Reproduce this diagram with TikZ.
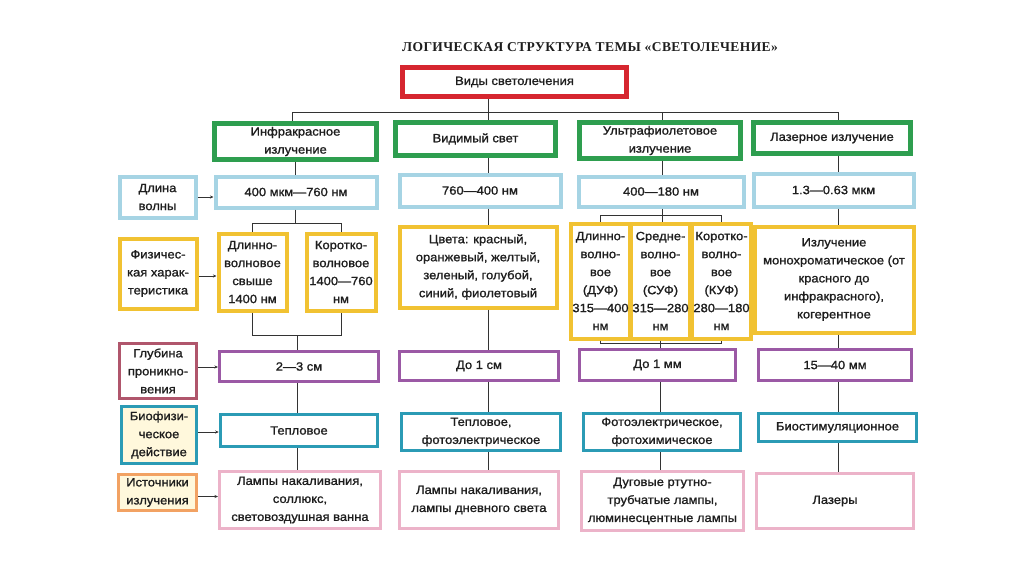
\documentclass[tikz,border=0pt]{standalone}
\usepackage{fontspec}
\setmainfont[FakeStretch=1.08,FakeBold=1.2]{Liberation Sans}
\newfontfamily\titlefont[LetterSpace=3]{Liberation Serif}
\usetikzlibrary{arrows.meta}
\definecolor{cred}{HTML}{D6262F}
\definecolor{cgreen}{HTML}{2E9E4F}
\definecolor{cblue}{HTML}{A6D4E4}
\definecolor{cyellow}{HTML}{F1C232}
\definecolor{cpurple}{HTML}{9B59A5}
\definecolor{cteal}{HTML}{2B9BB5}
\definecolor{cpink}{HTML}{ECB3C9}
\definecolor{corange}{HTML}{F2A263}
\definecolor{cmaroon}{HTML}{B0566C}
\definecolor{ccream}{HTML}{FFF8DC}
\definecolor{ctext}{HTML}{1E1E1E}
\newcommand{\mkbox}[7]{\node[#2, minimum width={#5-#3-3}, minimum height={#6-#4-3}] (#1) at ({(#3+#5)/2},{(#4+#6)/2}) {#7};}
\tikzset{
  box/.style={draw, fill=white, align=center, inner sep=1pt, text=ctext,
    font=\fontsize{12}{18}\selectfont},
  redbox/.style={box, draw=cred, line width=4.5pt},
  greenbox/.style={box, draw=cgreen, line width=4.5pt},
  bluebox/.style={box, draw=cblue, line width=4pt},
  yellowbox/.style={box, draw=cyellow, line width=4pt},
  purplebox/.style={box, draw=cpurple, line width=3pt},
  tealbox/.style={box, draw=cteal, line width=3.5pt},
  pinkbox/.style={box, draw=cpink, line width=3pt},
  conn/.style={draw=black!80, line width=0.8pt},
  arr/.style={conn, -{Stealth[length=3.5pt,width=3pt]}}
}
\begin{document}
\begin{tikzpicture}[x=1pt,y=-1pt]
\useasboundingbox (0,0) rectangle (1024,576);
\fill[white] (0,0) rectangle (1024,576);

\node[font=\titlefont\bfseries\fontsize{13.5}{15}\selectfont, text=ctext] (title) at (590,47) {ЛОГИЧЕСКАЯ СТРУКТУРА ТЕМЫ «СВЕТОЛЕЧЕНИЕ»};

\mkbox{root}{redbox}{401}{66}{628}{98}{Виды светолечения}

% row 1
\mkbox{ir}{greenbox}{213}{122}{378}{161}{Инфракрасное\\излучение}
\mkbox{vis}{greenbox}{394}{121}{557}{157}{Видимый свет}
\mkbox{uv}{greenbox}{578}{121}{742}{160}{Ультрафиолетовое\\излучение}
\mkbox{las}{greenbox}{752}{121}{912}{155}{Лазерное излучение}

% row 2
\mkbox{lblW}{bluebox}{118}{175}{197}{219}{Длина\\волны}
\mkbox{irW}{bluebox}{214}{175}{378}{209}{400 мкм—760 нм}
\mkbox{visW}{bluebox}{398}{173}{562}{208}{760—400 нм}
\mkbox{uvW}{bluebox}{577}{175}{745}{208}{400—180 нм}
\mkbox{lasW}{bluebox}{752}{172}{915}{208}{1.3—0.63 мкм}

% row 3
\mkbox{lblP}{yellowbox}{118}{237}{198}{310}{Физичес-\\кая харак-\\теристика}
\mkbox{irL}{yellowbox}{217}{232}{288}{312}{Длинно-\\волновое\\свыше\\1400 нм}
\mkbox{irS}{yellowbox}{305}{232}{377}{312}{Коротко-\\волновое\\1400—760\\нм}
\mkbox{visP}{yellowbox}{398}{225}{558}{309}{Цвета: красный,\\оранжевый, желтый,\\зеленый, голубой,\\синий, фиолетовый}
\mkbox{uvA}{yellowbox}{572}{222}{629}{340}{Длинно-\\волно-\\вое\\(ДУФ)\\315—400\\нм}
\mkbox{uvB}{yellowbox}{632}{222}{689}{340}{Средне-\\волно-\\вое\\(СУФ)\\315—280\\нм}
\mkbox{uvC}{yellowbox}{692}{222}{751}{340}{Коротко-\\волно-\\вое\\(КУФ)\\280—180\\нм}
\mkbox{lasP}{yellowbox}{753}{225}{915}{334}{Излучение\\монохроматическое (от\\красного до\\инфракрасного),\\когерентное}

% row 4
\mkbox{lblD}{box, draw=cmaroon, line width=3.5pt}{118}{342}{198}{400}{Глубина\\проникно-\\вения}
\mkbox{irD}{purplebox}{218}{350}{380}{383}{2—3 см}
\mkbox{visD}{purplebox}{398}{350}{560}{382}{До 1 см}
\mkbox{uvD}{purplebox}{578}{348}{737}{382}{До 1 мм}
\mkbox{lasD}{purplebox}{757}{348}{913}{382}{15—40 мм}

% row 5
\mkbox{lblB}{tealbox, fill=ccream}{120}{405}{198}{465}{Биофизи-\\ческое\\действие}
\mkbox{irB}{tealbox}{219}{413}{379}{448}{Тепловое}
\mkbox{visB}{tealbox}{400}{412}{562}{452}{Тепловое,\\фотоэлектрическое}
\mkbox{uvBio}{tealbox}{582}{412}{742}{452}{Фотоэлектрическое,\\фотохимическое}
\mkbox{lasB}{tealbox}{757}{412}{918}{443}{Биостимуляционное}

% row 6
\mkbox{lblS}{box, draw=corange, fill=ccream, line width=3.5pt}{117}{473}{198}{512}{Источники\\излучения}
\mkbox{irSrc}{pinkbox}{218}{470}{382}{530}{Лампы накаливания,\\соллюкс,\\световоздушная ванна}
\mkbox{visSrc}{pinkbox}{398}{470}{560}{530}{Лампы накаливания,\\лампы дневного света}
\mkbox{uvSrc}{pinkbox}{580}{470}{745}{532}{Дуговые ртутно-\\трубчатые лампы,\\люминесцентные лампы}
\mkbox{lasSrc}{pinkbox}{755}{472}{915}{530}{Лазеры}

% top bus
\coordinate (bL) at (292,112);
\coordinate (b0) at (488,112);
\coordinate (bU) at (662,112);
\coordinate (bR) at (838,112);
\draw[conn] (bL) -- (bR);
\draw[conn] (b0 |- root.south) -- (b0);
\draw[conn] (bL) -- (bL |- ir.north);
\draw[conn] (b0) -- (b0 |- vis.north);
\draw[conn] (bU) -- (bU |- uv.north);
\draw[conn] (bR) -- (bR |- las.north);

% infrared column
\coordinate (cI) at (295,223);
\coordinate (cIL) at (irL.center |- cI);
\coordinate (cIS) at (irS.center |- cI);
\draw[conn] (cI |- ir.south) -- (cI |- irW.north);
\draw[conn] (cI |- irW.south) -- (cI);
\draw[conn] (cIL |- irL.north) -- (cIL) -- (cIS) -- (cIS |- irS.north);
\coordinate (dI) at (297,335);
\coordinate (dIL) at (irL.center |- dI);
\coordinate (dIS) at (irS.center |- dI);
\draw[conn] (dIL |- irL.south) -- (dIL) -- (dIS) -- (dIS |- irS.south);
\draw[conn] (dI) -- (dI |- irD.north);
\draw[conn] (dI |- irD.south) -- (dI |- irB.north);
\draw[conn] (dI |- irB.south) -- (dI |- irSrc.north);

% visible column
\coordinate (cV) at (488,0);
\draw[conn] (cV |- vis.south) -- (cV |- visW.north);
\draw[conn] (cV |- visW.south) -- (cV |- visP.north);
\draw[conn] (cV |- visP.south) -- (cV |- visD.north);
\draw[conn] (cV |- visD.south) -- (cV |- visB.north);
\draw[conn] (cV |- visB.south) -- (cV |- visSrc.north);

% UV column
\coordinate (cU) at (662,215);
\coordinate (cUA) at (uvA.center |- cU);
\coordinate (cUC) at (uvC.center |- cU);
\draw[conn] (cU |- uv.south) -- (cU |- uvW.north);
\draw[conn] (cU |- uvW.south) -- (cU |- uvB.north);
\draw[conn] (cUA |- uvA.north) -- (cUA) -- (cUC) -- (cUC |- uvC.north);
\coordinate (dU) at (660,343);
\coordinate (dUA) at (uvA.center |- dU);
\coordinate (dUC) at (uvC.center |- dU);
\draw[conn] (dUA |- uvA.south) -- (dUA) -- (dUC) -- (dUC |- uvC.south);
\draw[conn] (dU |- uvB.south) -- (dU |- uvD.north);
\draw[conn] (dU |- uvD.south) -- (dU |- uvBio.north);
\draw[conn] (dU |- uvBio.south) -- (dU |- uvSrc.north);

% laser column
\coordinate (cL) at (838,0);
\draw[conn] (cL |- las.south) -- (cL |- lasW.north);
\draw[conn] (cL |- lasW.south) -- (cL |- lasP.north);
\draw[conn] (cL |- lasP.south) -- (cL |- lasD.north);
\draw[conn] (cL |- lasD.south) -- (cL |- lasB.north);
\draw[conn] (cL |- lasB.south) -- (cL |- lasSrc.north);

% label arrows
\draw[arr] (lblW.east) -- (lblW.east -| irW.west);
\draw[arr] ([yshift=-2.5pt]lblP.east) -- ([yshift=-2.5pt]lblP.east -| irL.west);
\draw[arr] ([yshift=4pt]lblD.east) -- ([yshift=4pt]lblD.east -| irD.west);
\draw[arr] ([yshift=3pt]lblB.east) -- ([yshift=3pt]lblB.east -| irB.west);
\draw[arr] ([yshift=-4pt]lblS.east) -- ([yshift=-4pt]lblS.east -| irSrc.west);
\end{tikzpicture}
\end{document}
